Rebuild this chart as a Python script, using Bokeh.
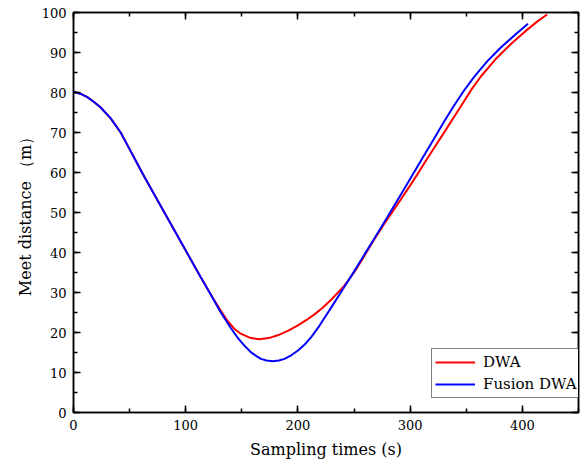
from bokeh.plotting import figure
from bokeh.models import (LinearAxis, SingleIntervalTicker, Range1d, Legend, LegendItem,
                          CustomJSTickFormatter)
from bokeh.embed import file_html
from bokeh.resources import INLINE

# Fusion DWA (blue)
fusion_x = [0, 6, 12, 18, 24, 33, 42, 47, 55, 63, 72, 80, 90, 98, 106, 113, 122, 130, 134, 140, 146,
            152, 158, 163, 167, 172, 177.4, 183, 188, 194, 200, 206, 212, 218, 224, 230, 240,
            247, 253, 259, 267, 280, 292, 301, 311, 321, 330, 339, 348, 357, 369, 381, 393, 405]
fusion_y = [80.2, 79.7, 78.9, 77.7, 76.3, 73.6, 70.0, 67.4, 63.2, 59, 54.5, 50.5, 45.5, 41.5, 37.5, 34, 29.6,
            25.6, 23.8, 21.2, 18.8, 16.8, 15.1, 14.1, 13.4, 13, 12.8, 13, 13.4, 14.3, 15.5, 17,
            18.9, 21.2, 23.8, 26.4, 30.8, 33.9, 36.6, 39.4, 43, 49, 54.6, 58.9, 63.6, 68.3, 72.6,
            76.7, 80.5, 83.9, 87.9, 91.3, 94.3, 97.2]

# DWA (red)
dwa_x = [0, 6, 12, 18, 24, 33, 42, 47, 55, 63, 72, 80, 90, 98, 106, 113, 122, 130, 137, 143, 149, 157,
         165.5, 174, 182, 191, 200, 208, 215, 222, 230, 241, 250, 258, 267, 277, 292, 302, 316,
         330, 345.5, 355, 363, 376, 390, 403, 414, 422]
dwa_y = [80.2, 79.7, 78.9, 77.7, 76.3, 73.6, 70.0, 67.4, 63.2, 59, 54.5, 50.5, 45.5, 41.5, 37.5, 34, 29.7,
         26, 23, 21, 19.7, 18.7, 18.3, 18.6, 19.3, 20.4, 21.8, 23.2, 24.6, 26.2, 28.3, 31.6, 35,
         38.6, 42.8, 47.2, 53.4, 57.6, 63.8, 69.9, 76.7, 80.9, 84, 88.3, 92.2, 95.4, 97.9, 99.5]

x_label = "Sampling times (s)"
y_label = "Meet distance （m）"
FONT = "DejaVu Serif"

p = figure(width=584, height=466, output_backend="svg", toolbar_location=None,
           x_range=Range1d(0, 450), y_range=Range1d(0, 100),
           x_axis_location=None, y_axis_location=None,
           min_border_left=73, min_border_right=6, min_border_top=12, min_border_bottom=54)
p.xgrid.visible = False
p.ygrid.visible = False
p.outline_line_color = "black"
p.outline_line_width = 1.5
p.background_fill_color = "white"
p.border_fill_color = "white"

def style_axis(ax, labels=True):
    ax.axis_line_color = "black"
    ax.axis_line_width = 1.5
    ax.major_tick_in = 7
    ax.major_tick_out = 0
    ax.minor_tick_in = 4
    ax.minor_tick_out = 0
    ax.major_tick_line_width = 1.5
    ax.minor_tick_line_width = 1.5
    ax.major_label_text_font = FONT
    ax.major_label_text_font_size = "13px"
    ax.major_label_text_color = "black"
    ax.axis_label_text_font = FONT
    ax.axis_label_text_font_size = "16px"
    ax.axis_label_text_font_style = "normal"
    ax.axis_label_text_color = "black"
    if not labels:
        ax.formatter = CustomJSTickFormatter(code="return ''")
        ax.major_label_standoff = 0

xb = LinearAxis(ticker=SingleIntervalTicker(interval=100, num_minor_ticks=2), axis_label=x_label)
style_axis(xb)
xb.major_label_standoff = 7
xb.axis_label_standoff = 7
p.add_layout(xb, "below")

yl = LinearAxis(ticker=SingleIntervalTicker(interval=10, num_minor_ticks=2), axis_label=y_label)
style_axis(yl)
yl.major_label_standoff = 7
yl.axis_label_standoff = 4
p.add_layout(yl, "left")

xt = LinearAxis(ticker=SingleIntervalTicker(interval=100, num_minor_ticks=2))
style_axis(xt, labels=False)
p.add_layout(xt, "above")

yr = LinearAxis(ticker=SingleIntervalTicker(interval=10, num_minor_ticks=2))
style_axis(yr, labels=False)
p.add_layout(yr, "right")

r_dwa = p.line(dwa_x, dwa_y, line_color="#ff0000", line_width=2)
r_fus = p.line(fusion_x, fusion_y, line_color="#0000ff", line_width=2)

legend = Legend(items=[LegendItem(label="DWA", renderers=[r_dwa]),
                       LegendItem(label="Fusion DWA", renderers=[r_fus])],
                location=(358, 14))
legend.label_text_font = FONT
legend.label_text_font_size = "15px"
legend.label_text_color = "black"
legend.border_line_color = "black"
legend.border_line_width = 1
legend.glyph_width = 40
legend.glyph_height = 20
legend.label_height = 20
legend.spacing = 2
legend.padding = 3
legend.margin = 0
legend.label_standoff = 8
legend.background_fill_alpha = 1
p.add_layout(legend, "center")

open("out.html", "w").write(file_html(p, INLINE))
